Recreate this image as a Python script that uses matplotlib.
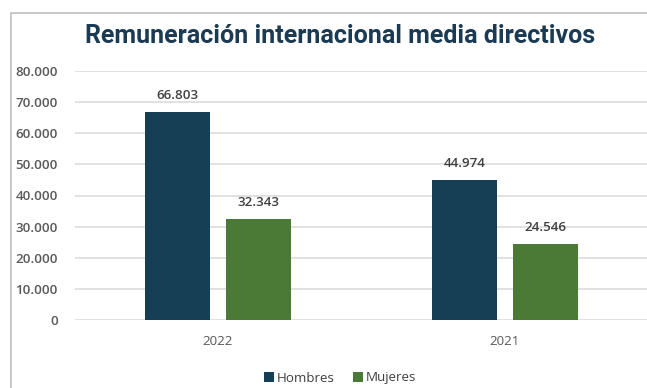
import matplotlib
matplotlib.use('Agg')
import matplotlib.pyplot as plt
import numpy as np
from matplotlib.patches import Rectangle
from matplotlib.ticker import FuncFormatter

# datos
years = ['2022', '2021']
hombres = [66803, 44974]
mujeres = [32343, 24546]
series = ['Hombres', 'Mujeres']
colores = ['#143F55', '#4B7A36']

plt.rcParams['font.family'] = ['Open Sans', 'DejaVu Sans']

fig = plt.figure(figsize=(6.47, 3.88), dpi=100)
ax = fig.add_axes([74.5 / 647, 68 / 388, 574 / 647, 249 / 388])

# marco gris del grafico
fig.add_artist(Rectangle((11 / 647, -0.1), 1.2, (388 - 13) / 388 + 0.1,
                         transform=fig.transFigure, fill=False,
                         edgecolor='#C4C4C4', linewidth=1.3))

x = np.arange(len(years))
w = 0.227
gap = 0.056
off = (w + gap) / 2

b1 = ax.bar(x - off, hombres, w, color=colores[0], label=series[0])
b2 = ax.bar(x + off, mujeres, w, color=colores[1], label=series[1])

fmt = lambda v: f'{v:,.0f}'.replace(',', '.')
for bars in (b1, b2):
    for r in bars:
        v = r.get_height()
        ax.text(r.get_x() + r.get_width() / 2, v + 3200, fmt(v),
                ha='center', va='bottom', fontsize=9.6,
                fontweight='semibold', color='#404040')

ax.set_xlim(-0.5, 1.5)
ax.set_ylim(0, 80000)
ax.set_yticks(np.arange(0, 80001, 10000))
ax.yaxis.set_major_formatter(FuncFormatter(lambda v, p: fmt(v)))
ax.set_xticks(x)
ax.set_xticklabels(years)
ax.tick_params(axis='y', length=0, pad=12, labelsize=9.6, labelcolor='#595959')
ax.tick_params(axis='x', length=0, pad=11, labelsize=9.6, labelcolor='#595959')
for t in ax.get_yticklabels():
    t.set_fontweight('semibold')

ax.grid(axis='y', color='#D9D9D9', linewidth=1.1)
ax.set_axisbelow(True)
for s in ax.spines.values():
    s.set_visible(False)

fig.text(340 / 647, 1 - 43 / 388, 'Remuneración internacional media directivos',
         ha='center', va='baseline', fontsize=18, fontweight='bold',
         color='#1B3A54', family=['Roboto', 'DejaVu Sans'])

fig.legend(handles=[b1, b2], labels=series, loc='center',
           bbox_to_anchor=(340 / 647, 1 - 378 / 388), ncol=2, frameon=False,
           fontsize=9.6, handlelength=0.75, handleheight=0.75,
           handletextpad=0.2, columnspacing=1.4, labelcolor='#404040')

fig.savefig('out.png', dpi=100)
